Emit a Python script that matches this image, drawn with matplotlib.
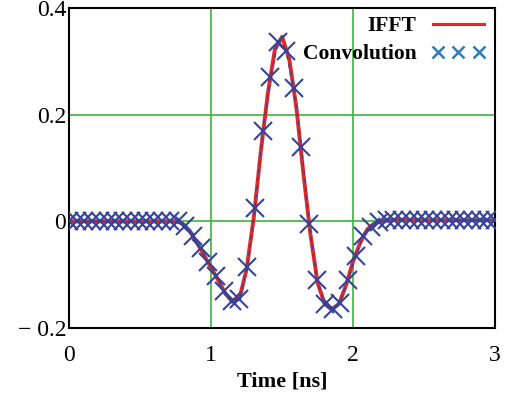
import numpy as np
import matplotlib
matplotlib.use('Agg')
from matplotlib import pyplot as plt
from matplotlib.lines import Line2D
from matplotlib.legend_handler import HandlerLine2D

plt.rcParams['font.family'] = ['Liberation Serif', 'DejaVu Serif']

# IFFT curve
t_ifft = [0.0, 0.25, 0.5, 0.75, 0.8, 0.85, 0.9, 0.95, 1.0, 1.05, 1.1, 1.15, 1.2, 1.25,
          1.3, 1.35, 1.4, 1.45, 1.5, 1.55, 1.6, 1.65, 1.7, 1.75, 1.8, 1.85,
          1.9, 1.95, 2.0, 2.05, 2.1, 2.15, 2.2, 2.3, 2.5, 2.75, 3.0]
v_ifft = [0.0, 0.0, 0.0, 0.0, -0.004, -0.018, -0.04, -0.063, -0.087, -0.11, -0.135, -0.151,
          -0.145, -0.09, 0.005, 0.13, 0.24, 0.323, 0.346, 0.305, 0.215, 0.09, -0.025,
          -0.115, -0.155, -0.165, -0.155, -0.12, -0.075, -0.04, -0.015, -0.004, 0.0,
          0.003, 0.002, 0.002, 0.002]

# convolution samples
t_conv = [0.0, 0.055, 0.109, 0.164, 0.218, 0.273, 0.327, 0.382, 0.436, 0.491, 0.545,
          0.600, 0.655, 0.709, 0.764, 0.818, 0.873, 0.927, 0.982, 1.036, 1.091, 1.145,
          1.200, 1.255, 1.309, 1.364, 1.418, 1.473, 1.527, 1.582, 1.636, 1.691, 1.745,
          1.800, 1.855, 1.909, 1.964, 2.018, 2.073, 2.127, 2.182, 2.236, 2.291, 2.345,
          2.400, 2.455, 2.509, 2.564, 2.618, 2.673, 2.727, 2.782, 2.836, 2.891, 2.945, 3.0]
v_conv = [0.0, 0.0, 0.0, 0.0, 0.0, 0.0, 0.0, 0.0, 0.0, 0.0, 0.0, 0.0, 0.0, 0.0,
          0.0, -0.008, -0.028, -0.05, -0.077, -0.102, -0.13, -0.15, -0.145, -0.085,
          0.025, 0.17, 0.27, 0.337, 0.32, 0.25, 0.14, -0.005, -0.11, -0.155, -0.165,
          -0.153, -0.11, -0.065, -0.028, -0.01, -0.001, 0.002, 0.002, 0.002, 0.002,
          0.002, 0.002, 0.002, 0.002, 0.002, 0.002, 0.002, 0.002, 0.002, 0.002, 0.002]

xticks = [0, 1, 2, 3]
yticks = [-0.2, 0, 0.2, 0.4]
ytick_labels = ['\u2212 0.2', '0', '0.2', '0.4']

fig = plt.figure(figsize=(5.11, 3.99), dpi=100)
ax = fig.add_axes([0.135, 0.178, 0.834, 0.802])

green = '#3cb43c'
for x in [1, 2]:
    ax.axvline(x, color=green, lw=1.2, zorder=1)
for y in [0, 0.2]:
    ax.axhline(y, color=green, lw=1.2, zorder=1)

ax.plot(t_ifft, v_ifft, color='#e02828', lw=2.8, zorder=2)
ax.plot(t_conv, v_conv, color='#34439a', lw=1.0, ls=(0, (3, 3)), zorder=3)
ax.plot(t_conv, v_conv, ls='none', marker='x', ms=12.5, mew=1.5, color='#34439a', zorder=4)

ax.set_xlim(0, 3)
ax.set_ylim(-0.2, 0.4)
ax.set_xticks(xticks)
ax.set_xticklabels([str(x) for x in xticks])
ax.set_yticks(yticks)
ax.set_yticklabels(ytick_labels)
ax.tick_params(length=0, labelsize=17)
ax.tick_params(axis='x', pad=12)
ax.tick_params(axis='y', pad=2)
for s in ax.spines.values():
    s.set_linewidth(1.5)
ax.set_xlabel('Time [ns]', fontsize=16, fontweight='bold', labelpad=4)

h1 = Line2D([], [], color='#e02828', lw=2.2)
h2 = Line2D([], [], color='#2b7cc0', ls='none', marker='x', ms=8.5, mew=1.8)
leg = ax.legend([h1, h2], ['IFFT', 'Convolution'], loc='upper right',
                bbox_to_anchor=(1.035, 1.035), frameon=False, markerfirst=False,
                numpoints=3, handlelength=3.0, handletextpad=0.45, labelspacing=0.38,
                handler_map={h2: HandlerLine2D(numpoints=3, marker_pad=0.55)},
                prop={'weight': 'bold', 'size': 15.5})

fig.savefig('out.png', dpi=100)
